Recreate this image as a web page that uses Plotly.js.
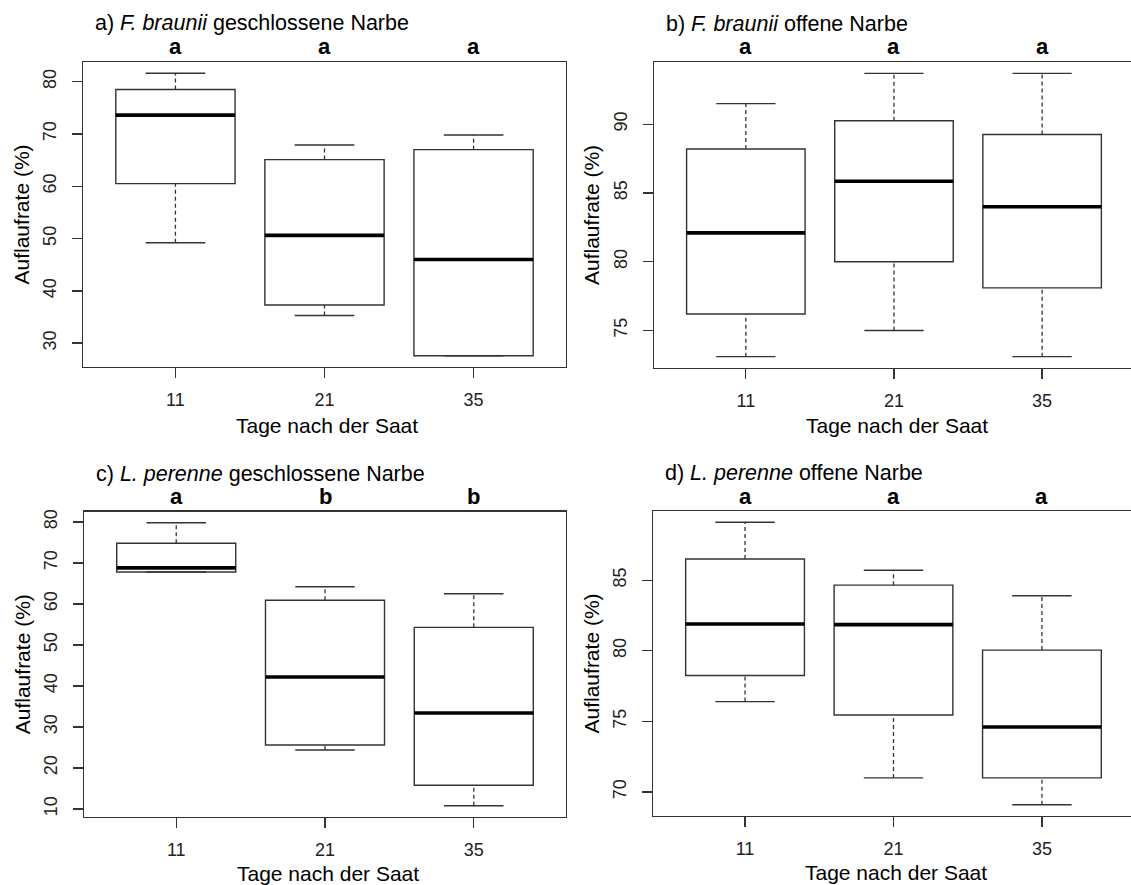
<!DOCTYPE html>
<html>
<head>
<meta charset="utf-8">
<script src="https://cdn.plot.ly/plotly-3.0.1.min.js"></script>
<style>
  html, body { margin: 0; padding: 0; background: #fff; }
  #chart { width: 1131px; height: 885px; }
</style>
</head>
<body>
<div id="chart"></div>
<script>
// ---- data ----
const days = ["11", "21", "35"];

// a) F. braunii geschlossene Narbe
const aLow  = [49.2, 35.3, 27.6];
const aQ1   = [60.5, 37.3, 27.6];
const aMed  = [73.6, 50.6, 46.0];
const aQ3   = [78.5, 65.1, 67.0];
const aHigh = [81.6, 67.9, 69.8];
const aLetters = ["a", "a", "a"];

// b) F. braunii offene Narbe
const bLow  = [73.1, 75.0, 73.1];
const bQ1   = [76.2, 80.0, 78.1];
const bMed  = [82.1, 85.85, 84.0];
const bQ3   = [88.2, 90.25, 89.25];
const bHigh = [91.5, 93.7, 93.7];
const bLetters = ["a", "a", "a"];

// c) L. perenne geschlossene Narbe
const cLow  = [67.8, 24.4, 10.8];
const cQ1   = [67.8, 25.6, 15.8];
const cMed  = [68.8, 42.2, 33.4];
const cQ3   = [74.8, 60.9, 54.3];
const cHigh = [79.8, 64.2, 62.5];
const cLetters = ["a", "b", "b"];

// d) L. perenne offene Narbe
const dLow  = [76.4, 71.0, 69.1];
const dQ1   = [78.25, 75.45, 71.0];
const dMed  = [81.9, 81.85, 74.6];
const dQ3   = [86.5, 84.65, 80.05];
const dHigh = [89.1, 85.7, 83.9];
const dLetters = ["a", "a", "a"];

const titles = [
  "a) <i>F. braunii</i> geschlossene Narbe",
  "b) <i>F. braunii</i> offene Narbe",
  "c) <i>L. perenne</i> geschlossene Narbe",
  "d) <i>L. perenne</i> offene Narbe"
];
const xTitle = "Tage nach der Saat";
const yTitle = "Auflaufrate (%)";

// ---- drawing ----
const W = 1131, H = 885;
const FONT = "Liberation Sans, Arial, sans-serif";
const LINE = "#333";
const pos = days.map((d, i) => i + 1);

const panels = [
  {low: aLow, q1: aQ1, med: aMed, q3: aQ3, high: aHigh, letters: aLetters,
   px: [83, 566], py: [62, 367], xr: [0.38, 3.62], dtick: 10, mirrorY: true, letterY: 46, titleY: 23, xtY: 426},
  {low: bLow, q1: bQ1, med: bMed, q3: bQ3, high: bHigh, letters: bLetters,
   px: [654, 1131], py: [62, 368], xr: [0.38, 3.6], dtick: 5, mirrorY: false, letterY: 47, titleY: 24, xtY: 425},
  {low: cLow, q1: cQ1, med: cMed, q3: cQ3, high: cHigh, letters: cLetters,
   px: [84, 566], py: [511.5, 817], xr: [0.38, 3.62], dtick: 10, mirrorY: true, letterY: 497, titleY: 474, xtY: 873},
  {low: dLow, q1: dQ1, med: dMed, q3: dQ3, high: dHigh, letters: dLetters,
   px: [653, 1131], py: [511, 816], xr: [0.38, 3.6], dtick: 5, mirrorY: false, letterY: 497, titleY: 473, xtY: 872}
];

const traces = [];
const layout = {
  width: W, height: H,
  margin: {l: 0, r: 0, t: 0, b: 0},
  paper_bgcolor: "#fff", plot_bgcolor: "#fff",
  showlegend: false,
  font: {family: FONT, color: "#000"},
  annotations: []
};

panels.forEach((p, k) => {
  const n = k + 1;
  const xa = n === 1 ? "x" : "x" + n;
  const ya = n === 1 ? "y" : "y" + n;
  const xKey = n === 1 ? "xaxis" : "xaxis" + n;
  const yKey = n === 1 ? "yaxis" : "yaxis" + n;

  // boxes (whiskers drawn separately as dashed lines)
  traces.push({
    type: "box", xaxis: xa, yaxis: ya,
    x: pos, q1: p.q1, median: p.med, q3: p.q3,
    lowerfence: p.q1, upperfence: p.q3,
    width: 0.8, whiskerwidth: 0,
    fillcolor: "#fff", line: {color: LINE, width: 1.4},
    boxpoints: false, hoverinfo: "skip"
  });

  // dashed whiskers
  const wx = [], wy = [];
  pos.forEach((x, i) => {
    wx.push(x, x, null, x, x, null);
    wy.push(p.q3[i], p.high[i], null, p.low[i], p.q1[i], null);
  });
  traces.push({type: "scatter", mode: "lines", xaxis: xa, yaxis: ya, x: wx, y: wy,
    line: {color: LINE, width: 1.3, dash: "4px,3px"}, hoverinfo: "skip", connectgaps: false});

  // whisker caps
  const cx = [], cy = [];
  pos.forEach((x, i) => {
    cx.push(x - 0.2, x + 0.2, null, x - 0.2, x + 0.2, null);
    cy.push(p.high[i], p.high[i], null, p.low[i], p.low[i], null);
  });
  traces.push({type: "scatter", mode: "lines", xaxis: xa, yaxis: ya, x: cx, y: cy,
    line: {color: LINE, width: 1.4}, hoverinfo: "skip"});

  // thick medians
  const mx = [], my = [];
  pos.forEach((x, i) => {
    mx.push(x - 0.4, x + 0.4, null);
    my.push(p.med[i], p.med[i], null);
  });
  traces.push({type: "scatter", mode: "lines", xaxis: xa, yaxis: ya, x: mx, y: my,
    line: {color: "#000", width: 3.6}, hoverinfo: "skip"});

  // y range like R (data range extended 4%)
  const mn = Math.min(...p.low), mxv = Math.max(...p.high);
  const ext = (mxv - mn) * 0.04;

  layout[xKey] = {
    domain: [p.px[0] / W, p.px[1] / W],
    anchor: ya, range: p.xr,
    tickvals: pos, ticktext: days,
    showline: true, mirror: true, linecolor: LINE, linewidth: 1.4,
    ticks: "outside", ticklen: 10, tickwidth: 1.3, tickcolor: LINE,
    showgrid: false, zeroline: false,
    tickfont: {family: FONT, size: 18, color: "#222"},
    ticklabelstandoff: 6
  };
  layout[yKey] = {
    domain: [1 - p.py[1] / H, 1 - p.py[0] / H],
    anchor: xa, range: [mn - ext, mxv + ext],
    dtick: p.dtick, tick0: 0,
    showline: true, mirror: p.mirrorY, linecolor: LINE, linewidth: 1.4,
    ticks: "outside", ticklen: 10, tickwidth: 1.3, tickcolor: LINE,
    showgrid: false, zeroline: false,
    tickangle: -90,
    tickfont: {family: FONT, size: 18, color: "#222"},
    ticklabelstandoff: 8
  };

  // panel title
  layout.annotations.push({
    text: titles[k], xref: "paper", yref: "paper",
    x: (p.px[0] + 9.5) / W, y: 1 - p.titleY / H,
    xanchor: "left", yanchor: "middle", showarrow: false,
    font: {family: FONT, size: 21.5, color: "#000"}
  });
  // x axis title
  const xEnd = n % 2 === 0 ? p.px[0] + 480 : p.px[1];
  layout.annotations.push({
    text: xTitle, xref: "paper", yref: "paper",
    x: (p.px[0] + xEnd) / 2 / W + 3 / W, y: 1 - p.xtY / H,
    xanchor: "center", yanchor: "middle", showarrow: false,
    font: {family: FONT, size: 21, color: "#000"}
  });
  // y axis title
  layout.annotations.push({
    text: yTitle, xref: "paper", yref: "paper", textangle: -90,
    x: (p.px[0] - 62) / W, y: 1 - (p.py[0] + p.py[1]) / 2 / H,
    xanchor: "center", yanchor: "middle", showarrow: false,
    font: {family: FONT, size: 21, color: "#000"}
  });
  // significance letters
  p.letters.forEach((L, i) => {
    layout.annotations.push({
      text: "<b>" + L + "</b>", xref: xa, yref: "paper",
      x: pos[i], y: 1 - p.letterY / H,
      xanchor: "center", yanchor: "middle", showarrow: false,
      font: {family: FONT, size: 22, color: "#000"}
    });
  });
});

Plotly.newPlot("chart", traces, layout, {displayModeBar: false, staticPlot: true});
</script>
</body>
</html>
